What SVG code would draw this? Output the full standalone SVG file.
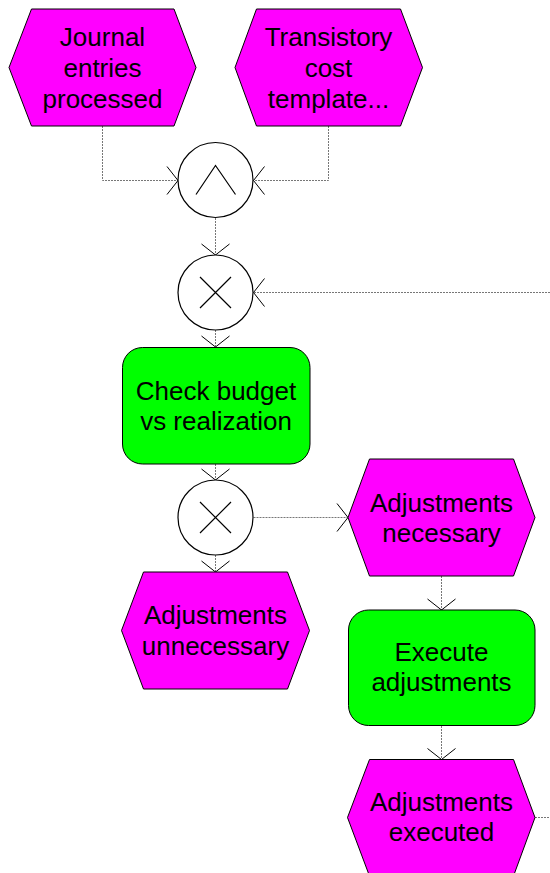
<svg xmlns="http://www.w3.org/2000/svg" width="550" height="873" viewBox="0 0 550 873">
  <style>
    .event { fill: #FF00FF; stroke: #000; stroke-width: 1; }
    .func { fill: #00FF00; stroke: #000; stroke-width: 1; }
    .gate { fill: #fff; stroke: #000; stroke-width: 1.2; }
    .sym { fill: none; stroke: #000; stroke-width: 1.2; }
    .lbl { font-family: "Liberation Sans", Arial, sans-serif; font-size: 26px; fill: #000; text-anchor: middle; }
    .flow { fill: none; stroke: #777; stroke-width: 1; stroke-dasharray: 2,1; }
  </style>
  <defs>
    <marker id="arrow" markerUnits="userSpaceOnUse" markerWidth="30" markerHeight="30" refX="0" refY="0" viewBox="-14 -15 16 30" orient="auto" overflow="visible">
      <path d="M-11,-14 L0,0 L-11,14" fill="none" stroke="#000" stroke-width="1"/>
    </marker>
  </defs>

  <rect width="550" height="873" fill="#fff"/>

  <!-- connectors -->
  <g id="connectors">
    <path class="flow" d="M102.5,126 V180.5 H178" marker-end="url(#arrow)"/>
    <path class="flow" d="M328.5,126 V180.5 H253.5" marker-end="url(#arrow)"/>
    <path class="flow" d="M215.5,218 V255" marker-end="url(#arrow)"/>
    <path class="flow" d="M550,292.5 H253.5" marker-end="url(#arrow)"/>
    <path class="flow" d="M215.5,330 V347" marker-end="url(#arrow)"/>
    <path class="flow" d="M215.5,464 V480" marker-end="url(#arrow)"/>
    <path class="flow" d="M215.5,555 V572" marker-end="url(#arrow)"/>
    <path class="flow" d="M253.5,517.5 H348" marker-end="url(#arrow)"/>
    <path class="flow" d="M441.5,576 V610" marker-end="url(#arrow)"/>
    <path class="flow" d="M441.5,726 V759.5" marker-end="url(#arrow)"/>
    <path class="flow" d="M535,817.5 H550"/>
  </g>

  <!-- events -->
  <g id="ev-journal">
    <polygon class="event" points="9,67.5 31.5,9 174,9 196,67.5 174,126 31.5,126"/>
    <text class="lbl" x="102.5" y="46">Journal</text>
    <text class="lbl" x="102.5" y="77">entries</text>
    <text class="lbl" x="102.5" y="107.5">processed</text>
  </g>
  <g id="ev-transistory">
    <polygon class="event" points="235,67.5 256.5,9 400.5,9 422.5,67.5 400.5,126 256.5,126"/>
    <text class="lbl" x="328.5" y="46">Transistory</text>
    <text class="lbl" x="328.5" y="77">cost</text>
    <text class="lbl" x="328.5" y="107.5">template...</text>
  </g>

  <!-- AND gate -->
  <g id="gate-and">
    <circle class="gate" cx="215.5" cy="180" r="37.5"/>
    <path class="sym" d="M196,194.5 L215.5,165.5 L235.5,194.5"/>
  </g>

  <!-- XOR gate (merge) -->
  <g id="gate-xor1">
    <circle class="gate" cx="215.5" cy="292.5" r="37.5"/>
    <path class="sym" d="M200,277 L231,308 M231,277 L200,308"/>
  </g>

  <g id="fn-check">
    <rect class="func" x="122.5" y="347.5" width="187.5" height="116.5" rx="20" ry="20"/>
    <text class="lbl" x="216" y="399.5">Check budget</text>
    <text class="lbl" x="216" y="429.5">vs realization</text>
  </g>

  <!-- XOR gate (split) -->
  <g id="gate-xor2">
    <circle class="gate" cx="215.5" cy="517.5" r="37.5"/>
    <path class="sym" d="M200,502 L231,533 M231,502 L200,533"/>
  </g>

  <g id="ev-necessary">
    <polygon class="event" points="348,517.5 369.5,459 513.5,459 535,517.5 513.5,576 369.5,576"/>
    <text class="lbl" x="441.5" y="511.5">Adjustments</text>
    <text class="lbl" x="441.5" y="541.5">necessary</text>
  </g>

  <g id="ev-unnecessary">
    <polygon class="event" points="121.5,630.5 143.5,572 287.5,572 309.5,630.5 287.5,689 143.5,689"/>
    <text class="lbl" x="215.5" y="624">Adjustments</text>
    <text class="lbl" x="215.5" y="654.5">unnecessary</text>
  </g>

  <g id="fn-execute">
    <rect class="func" x="348.5" y="610" width="186.5" height="115.5" rx="20" ry="20"/>
    <text class="lbl" x="441.5" y="661">Execute</text>
    <text class="lbl" x="441.5" y="691">adjustments</text>
  </g>

  <g id="ev-executed">
    <polygon class="event" points="347.5,817.5 369.5,759.5 513.5,759.5 535,817.5 513.5,876 369.5,876"/>
    <text class="lbl" x="441.5" y="810.5">Adjustments</text>
    <text class="lbl" x="441.5" y="841">executed</text>
  </g>
</svg>
